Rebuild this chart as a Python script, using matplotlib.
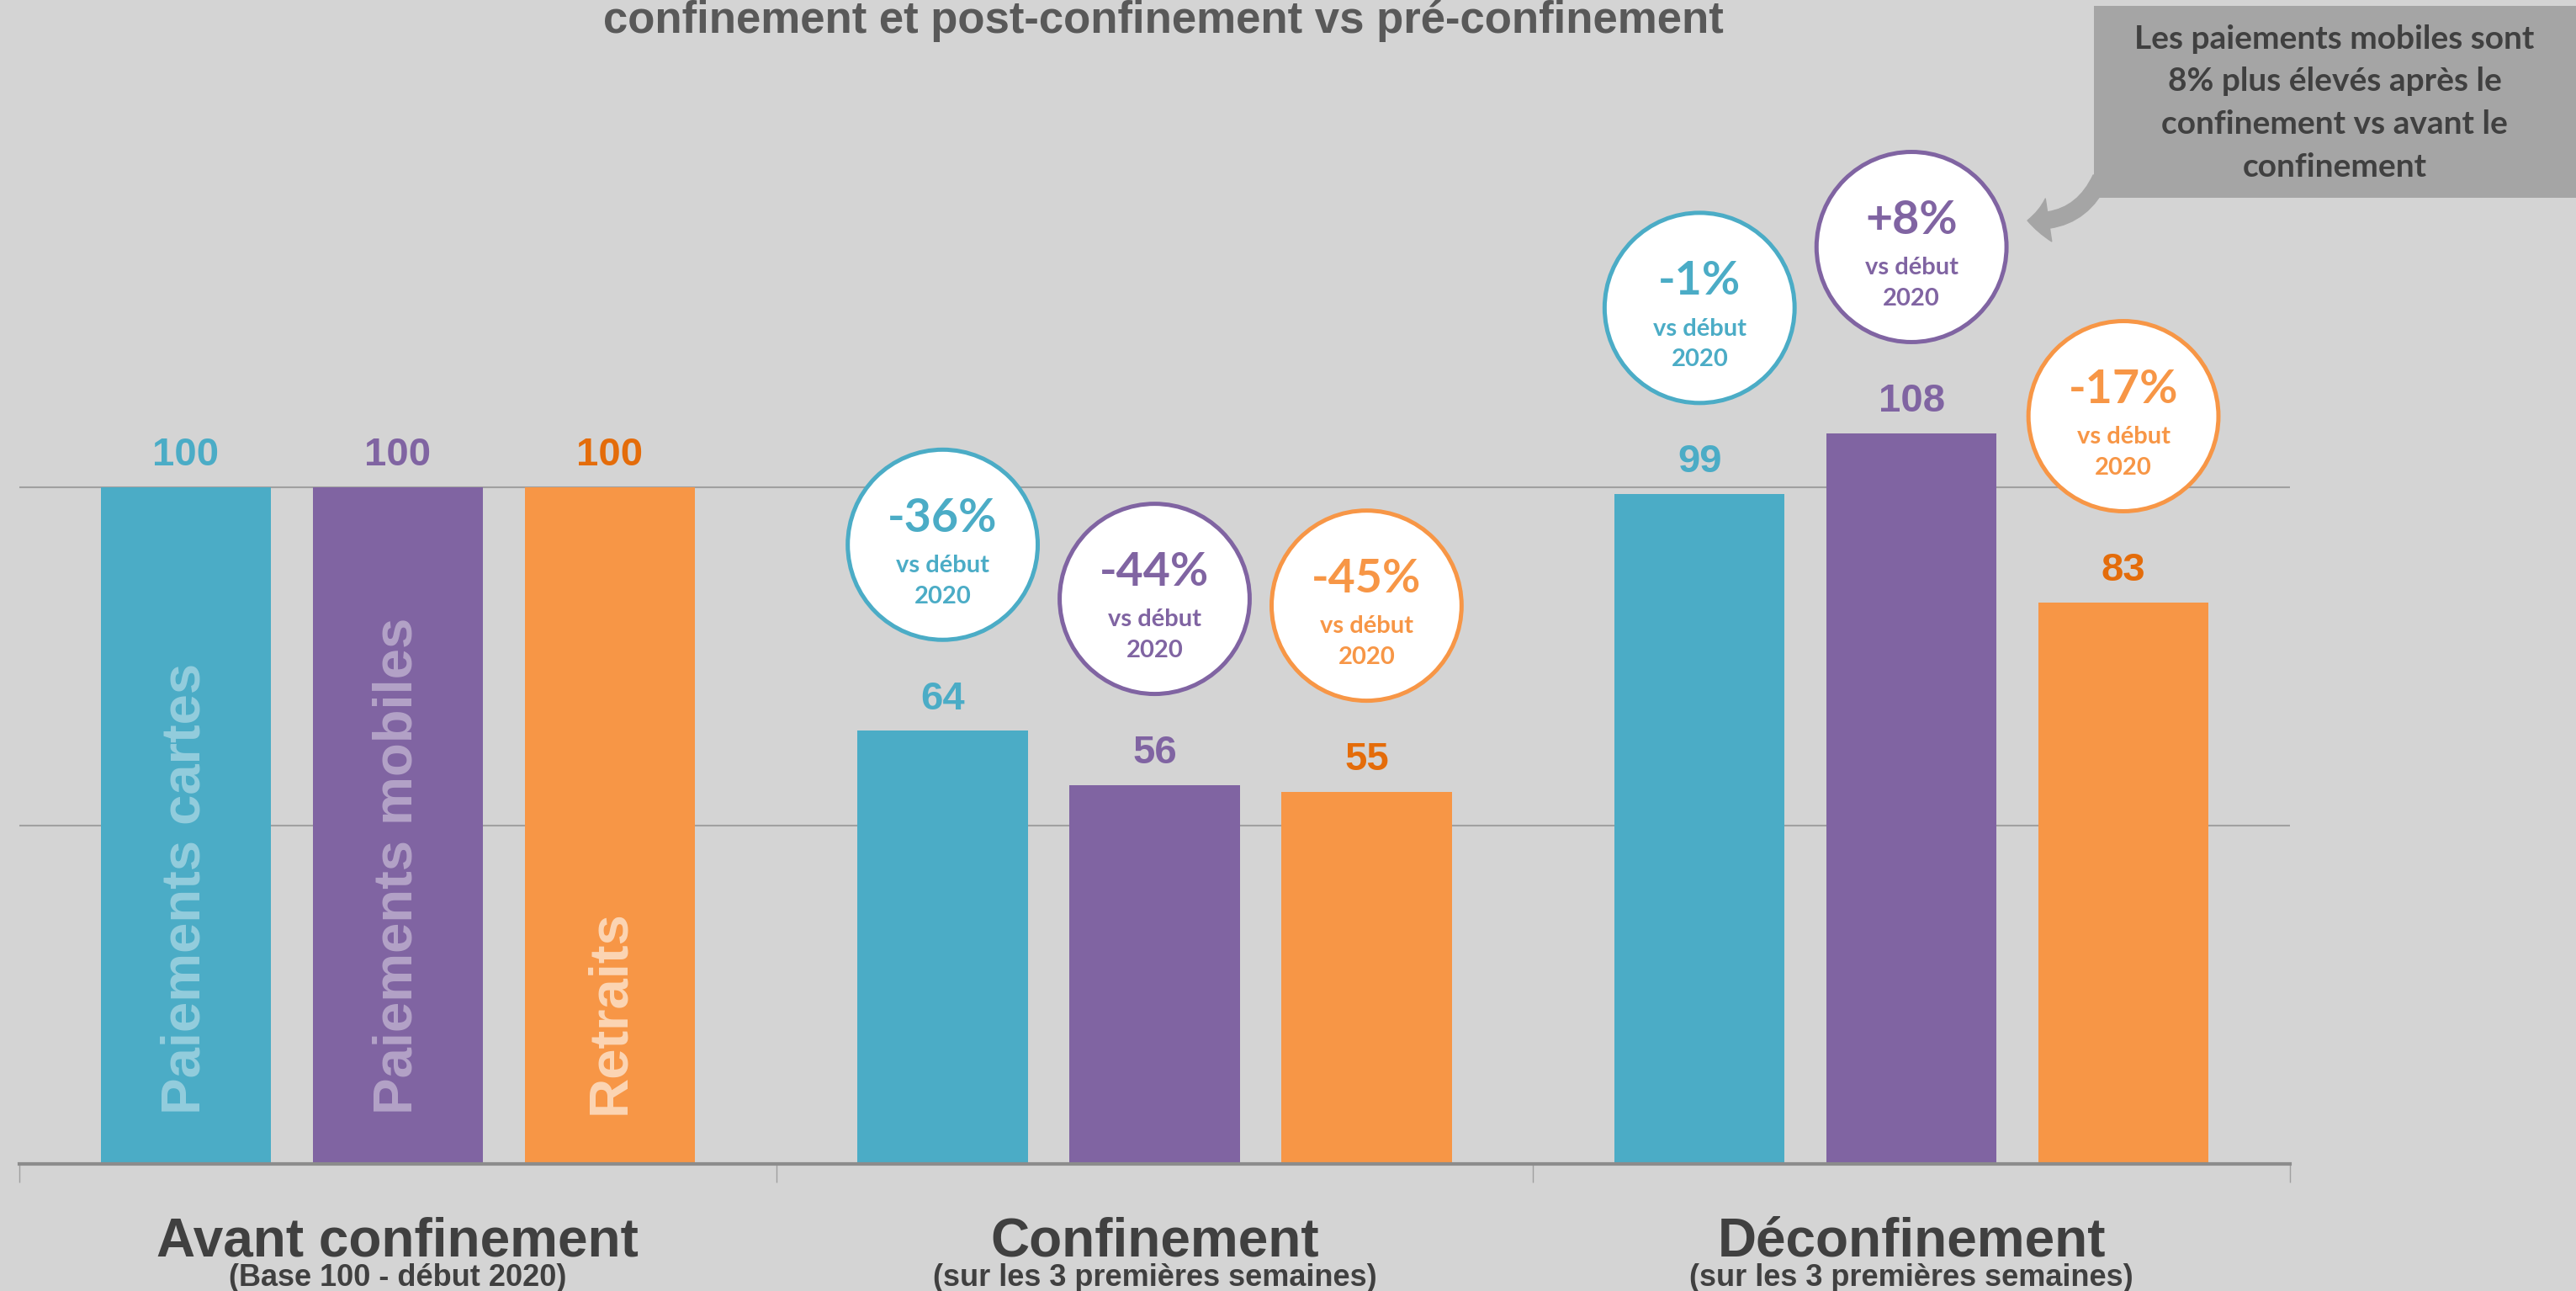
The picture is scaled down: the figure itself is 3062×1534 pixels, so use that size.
import matplotlib
matplotlib.use("Agg")
import matplotlib.pyplot as plt
import numpy as np
from matplotlib.patches import Ellipse, Rectangle, FancyArrowPatch

plt.rcParams['font.family'] = ['Liberation Sans', 'DejaVu Sans']

groups = ['Avant confinement', 'Confinement', 'Déconfinement']
subtitles = ['(Base 100 - début 2020)', '(sur les 3 premières semaines)',
             '(sur les 3 premières semaines)']
series = ['Paiements cartes', 'Paiements mobiles', 'Retraits']
cartes = [100, 64, 99]
mobiles = [100, 56, 108]
retraits = [100, 55, 83]
values = [cartes, mobiles, retraits]

title = 'confinement et post-confinement vs pré-confinement'
note = ['Les paiements mobiles sont', '8% plus élevés après le',
        'confinement vs avant le', 'confinement']

bar_colors = ['#4BACC6', '#8064A2', '#F79646']
num_colors = ['#4BACC6', '#8064A2', '#E46C0A']
name_colors = ['#93CDDD', '#B3A2C7', '#FCD5B4']
bg = '#D4D4D4'

W, H = 3062, 1534
fig = plt.figure(figsize=(W / 100, H / 100), dpi=100, facecolor=bg)
ax = fig.add_axes([23 / W, (H - 1383) / H, (2722 - 23) / W, 1383 / H])
ax.set_facecolor(bg)
ax.set_xlim(-0.5, 2.5)
ax.set_ylim(0, 172)

x = np.arange(len(groups))
offsets = [-0.28, 0, 0.28]
width = 0.225

for i, vals in enumerate(values):
    ax.bar(x + offsets[i], vals, width, color=bar_colors[i], zorder=2)
    for j, v in enumerate(vals):
        ax.text(x[j] + offsets[i], v + 3.2, str(v), ha='center', va='baseline',
                fontsize=34, fontweight='bold', color=num_colors[i], zorder=3)
    # series name inside first group bar
    ax.text(x[0] + offsets[i], 7.3, series[i], rotation=90, ha='center',
            va='bottom', fontsize=47, fontweight='bold', color=name_colors[i],
            zorder=3)
    # change vs start of 2020 in circles
    for j in range(1, len(groups)):
        v = vals[j]
        pct = int(round((v / vals[0] - 1) * 100))
        cx, cy = x[j] + offsets[i], v + 27.5
        ax.add_patch(Ellipse((cx, cy), 0.251, 28.1, facecolor='white',
                             edgecolor=bar_colors[i], linewidth=3.6,
                             zorder=4, clip_on=False))
        ax.text(cx, cy + 1.95, f'{pct:+d}%', ha='center', va='baseline',
                fontsize=40, fontweight='bold', color=bar_colors[i],
                family=['Lato', 'DejaVu Sans'], zorder=5, clip_on=False)
        ax.text(cx, cy - 4.07, 'vs début', ha='center', va='baseline',
                fontsize=21, fontweight='bold', color=bar_colors[i],
                family=['Lato', 'DejaVu Sans'], zorder=5, clip_on=False)
        ax.text(cx, cy - 8.63, '2020', ha='center', va='baseline',
                fontsize=21, fontweight='bold', color=bar_colors[i],
                family=['Lato', 'DejaVu Sans'], zorder=5, clip_on=False)

for j in range(len(groups)):
    ax.text(x[j], -13.6, groups[j], ha='center', va='baseline', fontsize=46,
            fontweight='bold', color='#404040', clip_on=False)
    ax.text(x[j], -18.06, subtitles[j], ha='center', va='baseline',
            fontsize=26, fontweight='bold', color='#404040', clip_on=False)

ax.set_yticks([50, 100])
ax.set_yticklabels([])
ax.tick_params(axis='y', length=0)
ax.yaxis.grid(True, color='#A0A0A0', linewidth=1.5, zorder=0)
ax.set_axisbelow(True)
ax.set_xticks([-0.5, 0.5, 1.5, 2.5])
ax.set_xticklabels([])
ax.tick_params(axis='x', length=16, width=1.0, color='#A0A0A0', direction='out')
for s in ['top', 'right', 'left']:
    ax.spines[s].set_visible(False)
ax.spines['bottom'].set_color('#8C8C8C')
ax.spines['bottom'].set_linewidth(3)

fig.text(1383 / W, 1 - 39 / H, title, ha='center', va='baseline',
         fontsize=38, fontweight='bold', color='#595959')

# callout box with arrow
arrow = FancyArrowPatch((2497 / W, 1 - 212 / H), (2410 / W, 1 - 262 / H),
                        transform=fig.transFigure,
                        connectionstyle='arc3,rad=-0.35',
                        arrowstyle='simple,head_length=18,head_width=37,tail_width=14',
                        mutation_scale=1, color='#A5A5A5', shrinkA=0, shrinkB=0,
                        zorder=6)
fig.add_artist(arrow)
fig.add_artist(Rectangle((2489 / W, 1 - 235 / H), (W - 2489) / W, 228 / H,
                         transform=fig.transFigure, facecolor='#A5A5A5',
                         edgecolor='none', zorder=7))
for k, line in enumerate(note):
    fig.text(2775 / W, 1 - (58 + 50.5 * k) / H, line, ha='center',
             va='baseline', fontsize=28, fontweight='bold', color='#404040',
             family=['Lato', 'DejaVu Sans'], zorder=8)

fig.savefig('out.png', dpi=100, facecolor=bg)
